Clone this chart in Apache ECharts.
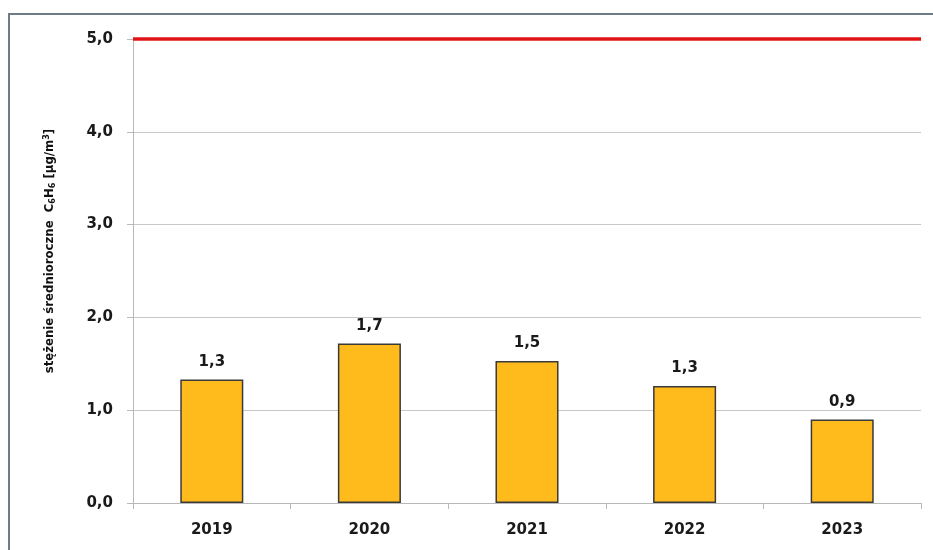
<!DOCTYPE html>
<html>
<head>
<meta charset="utf-8">
<script src="https://cdn.jsdelivr.net/npm/echarts@6/dist/echarts.min.js"></script>
<style>
  html, body { margin: 0; padding: 0; background: #ffffff; }
  #chart { width: 933px; height: 550px; }
</style>
</head>
<body>
<div id="chart"></div>
<script>
// Annual mean benzene concentration by year
const years = ['2019', '2020', '2021', '2022', '2023'];
const meanValues = [1.33, 1.72, 1.53, 1.26, 0.9];
const limitValue = 5.0;
const yTicks = [0, 1, 2, 3, 4, 5];

const fmt = v => v.toFixed(1).replace('.', ',');

const chart = echarts.init(document.getElementById('chart'), null, { renderer: 'canvas' });

const nameFont = 'DejaVu Sans Condensed';

chart.setOption({
  backgroundColor: '#ffffff',
  animation: false,
  graphic: [{
    type: 'rect',
    shape: { x: 9, y: 14, width: 940, height: 560 },
    style: { fill: 'none', stroke: '#6e7c85', lineWidth: 2 },
    silent: true
  }],
  grid: { left: 133, right: 12, top: 39, bottom: 47, containLabel: false },
  xAxis: {
    type: 'category',
    data: years,
    axisLine: { show: true, lineStyle: { color: '#b8b8b8', width: 1 } },
    axisTick: { show: true, length: 6, lineStyle: { color: '#b8b8b8' } },
    axisLabel: {
      color: '#1a1a1a', fontFamily: 'DejaVu Sans', fontWeight: 'bold', fontSize: 15, margin: 20
    }
  },
  yAxis: {
    type: 'value',
    min: yTicks[0],
    max: yTicks[yTicks.length - 1],
    interval: 1,
    name: '{t|stężenie średnioroczne  C}{s|6}{t|H}{s|6}{t| [µg/m}{p|3}{t|]}',
    nameLocation: 'middle',
    nameGap: 76,
    nameRotate: 90,
    nameTextStyle: {
      padding: [0, 0, 0, 40],
      rich: {
        t: { fontFamily: nameFont, fontWeight: 'bold', fontSize: 13, color: '#111' },
        s: { fontFamily: nameFont, fontWeight: 'bold', fontSize: 9, color: '#111', verticalAlign: 'bottom', padding: [6, 0, 0, 0] },
        p: { fontFamily: nameFont, fontWeight: 'bold', fontSize: 9, color: '#111', verticalAlign: 'top', padding: [0, 0, 5, 0] }
      }
    },
    axisLine: { show: true, lineStyle: { color: '#b8b8b8', width: 1 } },
    axisTick: { show: true, length: 6, lineStyle: { color: '#b8b8b8' } },
    splitLine: { show: true, lineStyle: { color: '#c8c8c8', width: 1 } },
    axisLabel: {
      color: '#1a1a1a', fontFamily: 'DejaVu Sans', fontWeight: 'bold', fontSize: 15, margin: 20,
      formatter: v => fmt(v)
    }
  },
  series: [{
    type: 'bar',
    data: meanValues,
    barWidth: '40%',
    itemStyle: { color: '#ffbb1c', borderColor: '#3a3a3a', borderWidth: 1.5 },
    label: {
      show: true, position: 'top', distance: 10,
      color: '#1a1a1a', fontFamily: 'DejaVu Sans', fontWeight: 'bold', fontSize: 15,
      formatter: p => fmt(p.value)
    },
    markLine: {
      silent: true,
      symbol: 'none',
      label: { show: false },
      lineStyle: { color: '#e01414', width: 3.5, type: 'solid' },
      data: [{ yAxis: limitValue }]
    }
  }]
});
</script>
</body>
</html>
